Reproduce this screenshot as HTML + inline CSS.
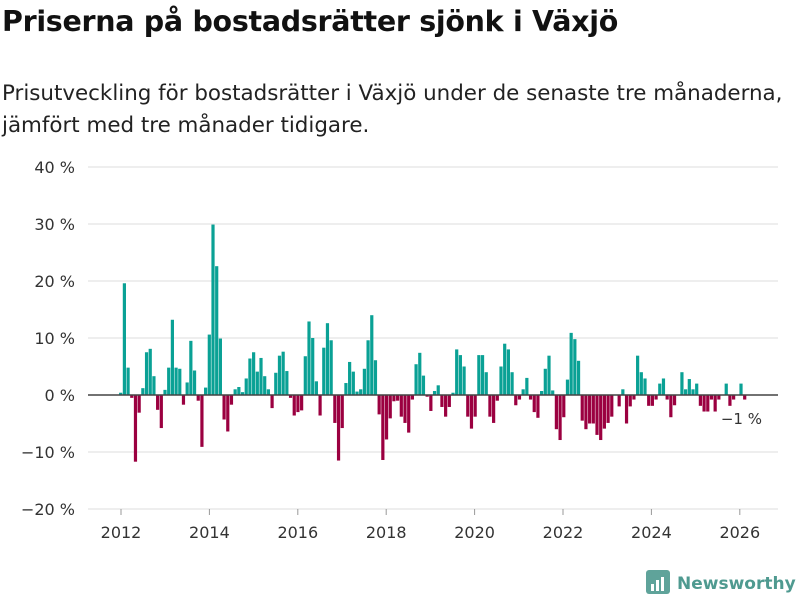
<!DOCTYPE html>
<html><head><meta charset="utf-8"><style>
body{margin:0;background:#fff;font-family:"Liberation Sans","DejaVu Sans",sans-serif;}
#wrap{position:relative;width:800px;height:600px;overflow:hidden;}
h1{position:absolute;left:2px;top:5px;margin:0;font-size:28.5px;font-weight:bold;color:#111;letter-spacing:-0.3px;font-family:"DejaVu Sans","Liberation Sans",sans-serif;}
.sub{position:absolute;left:2px;top:78px;margin:0;font-size:21.4px;line-height:32px;color:#222;font-family:"DejaVu Sans","Liberation Sans",sans-serif;}
</style></head><body><div id="wrap">
<h1>Priserna på bostadsrätter sjönk i Växjö</h1>
<p class="sub">Prisutveckling för bostadsrätter i Växjö under de senaste tre månaderna,<br>jämfört med tre månader tidigare.</p>
<svg id="chart" width="800" height="600" style="position:absolute;left:0;top:0"></svg>
</div>
<script>
const values = [0.4,19.6,4.8,-0.5,-11.7,-3.1,1.2,7.5,8.1,3.3,-2.6,-5.8,0.9,4.8,13.2,4.8,4.6,-1.7,2.2,9.5,4.3,-1.0,-9.1,1.3,10.6,29.9,22.6,9.9,-4.3,-6.4,-1.7,1.0,1.4,0.5,2.9,6.4,7.5,4.1,6.5,3.3,1.0,-2.3,3.9,6.9,7.6,4.2,-0.5,-3.6,-3.0,-2.7,6.8,12.9,10.0,2.4,-3.6,8.3,12.6,
9.6,-4.9,-11.5,-5.8,2.1,5.8,4.1,0.6,1.0,4.6,9.6,14.0,6.1,-3.4,-11.4,-7.8,-4.1,-1.1,-1.0,-3.8,-4.9,-6.6,-0.8,5.4,7.4,3.4,-0.3,-2.8,0.7,1.7,-2.1,-3.8,-2.1,0.4,8.0,7.0,5.0,-3.8,-5.9,-3.8,7.0,7.0,4.0,-3.8,-4.9,-1.0,5.0,9.0,8.0,4.0,-1.8,-0.8,1.0,3.0,-0.8,-3.0,-4.0,
0.7,4.6,6.9,0.8,-6.0,-7.9,-3.9,2.7,10.9,9.8,6.0,-4.5,-6.0,-5.0,-5.0,-7.0,-7.9,-5.9,-4.9,-3.8,0,-2.0,1.0,-5.0,-2.0,-0.8,6.9,4.0,2.9,-1.9,-1.9,-0.8,2.0,2.9,-0.8,-3.9,-1.8,0,4.0,1.0,2.8,1.0,2.0,-1.9,-2.9,-2.9,-0.8,-2.9,-0.8,0,2.0,-1.9,-0.8,0,2.0,-0.8];
const yTicks = [-20,-10,0,10,20,30,40];
const xTickYears = [2012,2014,2016,2018,2020,2022,2024,2026];
const lastLabel = "−1 %";

const NS="http://www.w3.org/2000/svg";
const svg=document.getElementById('chart');
function y(v){return 395 - v*5.7;}
function xi(i){return 120.7 + i*(744.7-120.7)/(values.length-1);}
function xYear(yr){return 121 + (yr-2012)*44.2;}
function mk(t,a){const e=document.createElementNS(NS,t);for(const k in a)e.setAttribute(k,a[k]);svg.appendChild(e);return e;}

yTicks.forEach(t=>{
  if(t!==0){
    const g=mk('line',{x1:88,x2:778,y1:y(t),y2:y(t),stroke:'#dddddd','stroke-width':1});
    
    
  }
  const tx=mk('text',{x:75,y:y(t)+6,'text-anchor':'end','font-size':16,fill:'#333','font-family':'DejaVu Sans, Liberation Sans, sans-serif'});
  tx.textContent=(t<0?'−'+Math.abs(t):t)+' %';
  
  
});
xTickYears.forEach(yr=>{
  const l=mk('line',{x1:xYear(yr),x2:xYear(yr),y1:509,y2:515,stroke:'#999','stroke-width':1});
  
  
  const tx=mk('text',{x:xYear(yr),y:538,'text-anchor':'middle','font-size':16,fill:'#333','font-family':'DejaVu Sans, Liberation Sans, sans-serif'});
  tx.textContent=yr;
  
  
});
values.forEach((v,i)=>{
  if(v===0)return;
  const r=mk('rect',{x:xi(i)-1.6,width:3.2,y:Math.min(y(v),y(0)),height:Math.abs(y(v)-y(0)),fill:v>0?'#0aa195':'#9b0040'});
  
  
});
const z=mk('line',{x1:88,x2:778,y1:y(0),y2:y(0),stroke:'#444','stroke-width':1.5});


const lab=mk('text',{x:762,y:424,'text-anchor':'end','font-size':15,fill:'#333','font-family':'DejaVu Sans, Liberation Sans, sans-serif'});
lab.textContent=lastLabel;



const logo=mk('g',{});


const box=document.createElementNS(NS,'rect');
box.setAttribute('x',646);box.setAttribute('y',570);box.setAttribute('width',24);box.setAttribute('height',24);box.setAttribute('rx',3);box.setAttribute('fill','#5fa39a');
logo.appendChild(box);
[[651,584,3,7],[656,580,3,11],[661,577,3,14]].forEach(b=>{const r=document.createElementNS(NS,'rect');r.setAttribute('x',b[0]);r.setAttribute('y',b[1]);r.setAttribute('width',b[2]);r.setAttribute('height',b[3]);r.setAttribute('fill','#fff');logo.appendChild(r);});
const lt=document.createElementNS(NS,'text');
lt.setAttribute('x',677);lt.setAttribute('y',589);lt.setAttribute('font-size',17);lt.setAttribute('font-weight','bold');lt.setAttribute('fill','#4f9a90');lt.setAttribute('font-family','DejaVu Sans, Liberation Sans, sans-serif');
lt.textContent='Newsworthy';
logo.appendChild(lt);
</script>
</body></html>
